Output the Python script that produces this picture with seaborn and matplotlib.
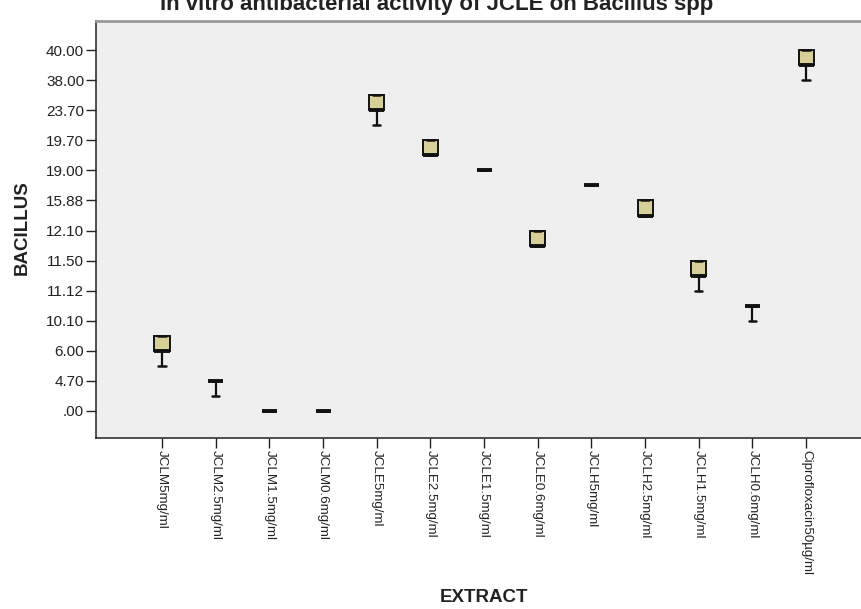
import matplotlib
matplotlib.use("Agg")
import matplotlib.pyplot as plt
import numpy as np
import pandas as pd
import seaborn as sns

# Extract groups along the x axis
extracts = ["JCLM5mg/ml", "JCLM2.5mg/ml", "JCLM1.5mg/ml", "JCLM0.6mg/ml",
            "JCLE5mg/ml", "JCLE2.5mg/ml", "JCLE1.5mg/ml", "JCLE0.6mg/ml",
            "JCLH5mg/ml", "JCLH2.5mg/ml", "JCLH1.5mg/ml", "JCLH0.6mg/ml",
            "Ciprofloxacin50µg/ml"]

# Ordinal inhibition-zone scale (one rank per distinct value)
zone_labels = [".00", "4.70", "6.00", "10.10", "11.12", "11.50", "12.10",
               "15.88", "19.00", "19.70", "23.70", "38.00", "40.00"]

# Box summaries on the ordinal rank scale
whisker_low = [1.5, 0.5, 0.0, 0.0, 9.5, 8.5, 8.0, 5.5, 7.5, 6.5, 4.0, 3.0, 11.0]
quart_low = [2.0, 1.0, 0.0, 0.0, 10.0, 8.5, 8.0, 5.5, 7.5, 6.5, 4.5, 3.5, 11.5]
median = [2.0, 1.0, 0.0, 0.0, 10.0, 8.5, 8.0, 5.5, 7.5, 6.5, 4.5, 3.5, 11.5]
quart_high = [2.5, 1.0, 0.0, 0.0, 10.5, 9.0, 8.0, 6.0, 7.5, 7.0, 5.0, 3.5, 12.0]
whisker_high = [2.5, 1.0, 0.0, 0.0, 10.5, 9.0, 8.0, 6.0, 7.5, 7.0, 5.0, 3.5, 12.0]

# Five points per group reproduce exactly these quartiles and extremes
rows = []
for i, name in enumerate(extracts):
    for v in (whisker_low[i], quart_low[i], median[i], quart_high[i], whisker_high[i]):
        rows.append({"EXTRACT": name, "BACILLUS": v})
df = pd.DataFrame(rows)

sns.set_style("ticks")
plt.rcParams["font.family"] = ["Liberation Sans", "DejaVu Sans"]

fig = plt.figure(figsize=(8.62, 6.09), dpi=100)
fig.patch.set_facecolor("white")
ax = fig.add_axes([96 / 862, 1 - 438 / 609, 768 / 862, 417 / 609])
ax.set_facecolor("#efefef")

sns.boxplot(data=df, x="EXTRACT", y="BACILLUS", order=extracts,
            whis=(0, 100), width=0.28, color="#d8cf98", saturation=1,
            linecolor="#111111", linewidth=1.4,
            medianprops=dict(linewidth=2.8, color="#111111"),
            whiskerprops=dict(linewidth=1.6), capprops=dict(linewidth=1.8),
            ax=ax)

ax.set_xlim(-1.23, 13.08)
ax.set_ylim(-0.9, 12.97)
ax.set_yticks(np.arange(len(zone_labels)))
ax.set_yticklabels(zone_labels, fontsize=11, color="#222222")
ax.set_xticks(np.arange(len(extracts)))
ax.set_xticklabels(extracts, rotation=270, fontsize=9.6, color="#222222")
ax.tick_params(axis="both", direction="out", length=7, width=1, color="#222222", pad=1.5)

for side in ("left", "bottom"):
    ax.spines[side].set_color("#222222")
    ax.spines[side].set_linewidth(1.1)
ax.spines["top"].set_color("#9a9a9a")
ax.spines["top"].set_linewidth(2)
ax.spines["right"].set_visible(False)

ax.set_xlabel("EXTRACT", fontsize=13.5, fontweight="bold", color="#222222")
ax.set_ylabel("BACILLUS", fontsize=13.5, fontweight="bold", color="#222222")
ax.xaxis.set_label_coords(0.505, -0.362)
ax.yaxis.set_label_coords(-0.085, 0.504)

fig.text(0.506, 1 - 10 / 609, "In vitro antibacterial activity of JCLE on Bacillus spp",
         ha="center", va="baseline", fontsize=16, fontweight="bold", color="#222222")

fig.savefig("out.png", dpi=100)
